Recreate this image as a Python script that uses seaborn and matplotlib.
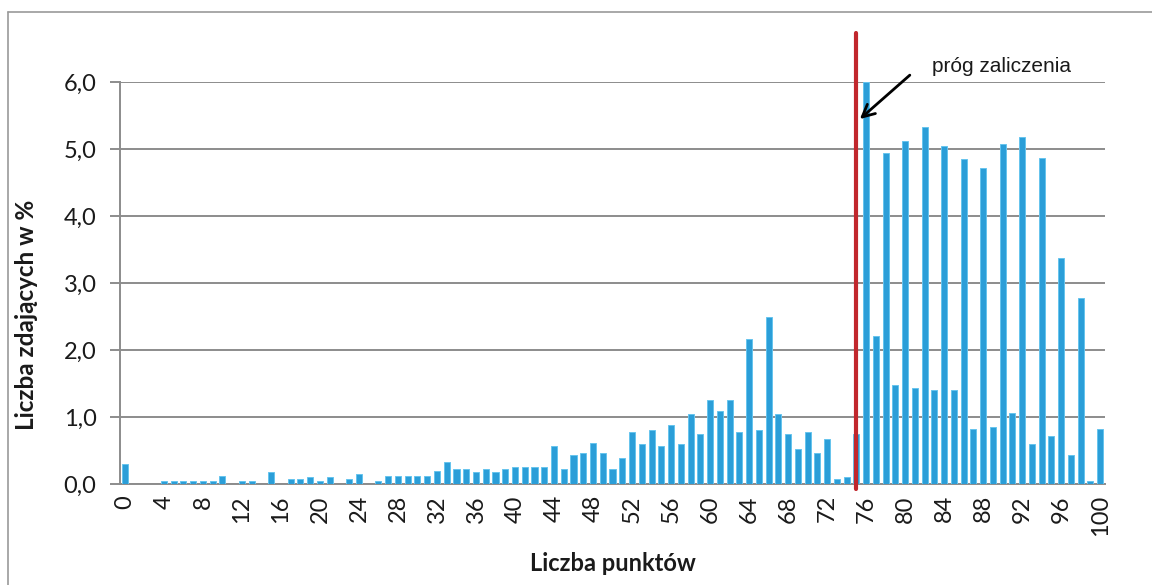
import numpy as np
import pandas as pd
import seaborn as sns
import matplotlib.pyplot as plt
from matplotlib.lines import Line2D
from matplotlib.ticker import FuncFormatter, MultipleLocator

# punkty 0..100 i odsetek zdajacych
points = list(range(0, 101))
percent = [
    0.30, 0.00, 0.00, 0.00, 0.05, 0.05, 0.05, 0.05, 0.05, 0.05,
    0.12, 0.00, 0.05, 0.05, 0.00, 0.18, 0.00, 0.07, 0.07, 0.11,
    0.05, 0.11, 0.00, 0.07, 0.15, 0.00, 0.04, 0.12, 0.12, 0.12,
    0.12, 0.12, 0.19, 0.33, 0.22, 0.22, 0.18, 0.22, 0.18, 0.22,
    0.25, 0.25, 0.25, 0.25, 0.57, 0.22, 0.43, 0.47, 0.61, 0.46,
    0.22, 0.39, 0.78, 0.60, 0.81, 0.57, 0.88, 0.60, 1.05, 0.74,
    1.26, 1.09, 1.26, 0.78, 2.17, 0.81, 2.50, 1.05, 0.75, 0.53,
    0.78, 0.46, 0.67, 0.07, 0.11, 0.75, 6.00, 2.21, 4.94, 1.48,
    5.12, 1.44, 5.33, 1.41, 5.05, 1.41, 4.85, 0.82, 4.71, 0.85,
    5.08, 1.06, 5.18, 0.60, 4.87, 0.71, 3.37, 0.43, 2.78, 0.04,
    0.82,
]
threshold = 75
xtick_labels = [str(v) for v in range(0, 101, 4)]
annot_text = "próg zaliczenia"

sns.set_style("white")
plt.rcParams['font.family'] = ['Lato', 'DejaVu Sans']

df = pd.DataFrame({'punkty': points, 'proc': percent})

fig = plt.figure(figsize=(11.52, 5.85), dpi=100)
ax = fig.add_axes([0.1042, 0.1726, 0.855, 0.6872])

sns.barplot(data=df, x='punkty', y='proc', color='#2B9ED8', saturation=1,
            width=0.62, edgecolor='#66C4EE', linewidth=0.7, ax=ax, zorder=3)

ax.set_xlim(-0.5, 100.5)
ax.set_ylim(0, 6.0)

# siatka
ax.yaxis.set_major_locator(MultipleLocator(1.0))
ax.yaxis.set_major_formatter(FuncFormatter(lambda v, p: f"{v:.1f}".replace('.', ',')))
ax.grid(axis='y', color='#8C8C8C', linewidth=1.4, zorder=0)
ax.set_axisbelow(True)

for s in ['top', 'right']:
    ax.spines[s].set_visible(False)
for s in ['left', 'bottom']:
    ax.spines[s].set_color('#8C8C8C')
    ax.spines[s].set_linewidth(1.4)

ax.set_xticks(range(0, 101, 4))
ax.set_xticklabels(xtick_labels, rotation=90, fontsize=17, color='#1a1a1a')
ax.set_xticks(np.arange(-0.5, 101, 1), minor=True)
ax.tick_params(axis='x', which='major', length=0, pad=8)
ax.tick_params(axis='x', which='minor', length=6, width=1.2, color='#8C8C8C')
ax.tick_params(axis='y', length=7, width=1.4, color='#8C8C8C', labelsize=17,
               labelcolor='#1a1a1a', pad=10, left=True)

ax.set_xlabel("Liczba punktów", fontsize=17, fontweight='bold', color='#1a1a1a')
ax.set_ylabel("Liczba zdających w %", fontsize=17.5, fontweight='bold', color='#1a1a1a')
ax.xaxis.set_label_coords(0.50, -0.168)
ax.yaxis.set_label_coords(-0.083, 0.42)

# prog zaliczenia
ax.plot([threshold, threshold], [-0.08, 6.73], color='#C1272D', linewidth=3,
        clip_on=False, zorder=5)
ax.annotate("", xy=(threshold + 0.15, 5.42), xytext=(80.7, 6.13),
            arrowprops=dict(arrowstyle='->', color='black', lw=2,
                            mutation_scale=22),
            annotation_clip=False, zorder=6)
ax.text(82.8, 6.15, annot_text, fontsize=15, family=['Liberation Sans', 'DejaVu Sans'],
        color='#1a1a1a', va='baseline', ha='left', clip_on=False)

# ramka wykresu
fig.add_artist(Line2D([8 / 1152, 1.0], [1 - 12 / 585, 1 - 12 / 585],
                      transform=fig.transFigure, color='#9A9A9A', linewidth=1.2))
fig.add_artist(Line2D([8 / 1152, 8 / 1152], [0.0, 1 - 12 / 585],
                      transform=fig.transFigure, color='#9A9A9A', linewidth=1.2))

plt.savefig('out.png', dpi=100)
